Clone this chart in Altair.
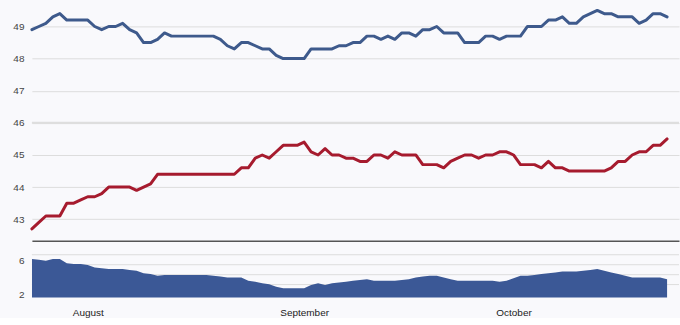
import altair as alt
import pandas as pd

start_date = "2012-07-24"

blue = [48.9, 49.0, 49.1, 49.3, 49.4, 49.2, 49.2, 49.2, 49.2, 49.0,
        48.9, 49.0, 49.0, 49.1, 48.9, 48.8, 48.5, 48.5, 48.6, 48.8,
        48.7, 48.7, 48.7, 48.7, 48.7, 48.7, 48.7, 48.6, 48.4, 48.3,
        48.5, 48.5, 48.4, 48.3, 48.3, 48.1, 48.0, 48.0, 48.0, 48.0,
        48.3, 48.3, 48.3, 48.3, 48.4, 48.4, 48.5, 48.5, 48.7, 48.7,
        48.6, 48.7, 48.6, 48.8, 48.8, 48.7, 48.9, 48.9, 49.0, 48.8,
        48.8, 48.8, 48.5, 48.5, 48.5, 48.7, 48.7, 48.6, 48.7, 48.7,
        48.7, 49.0, 49.0, 49.0, 49.2, 49.2, 49.3, 49.1, 49.1, 49.3,
        49.4, 49.5, 49.4, 49.4, 49.3, 49.3, 49.3, 49.1, 49.2, 49.4,
        49.4, 49.3]

red = [42.7, 42.9, 43.1, 43.1, 43.1, 43.5, 43.5, 43.6, 43.7, 43.7,
       43.8, 44.0, 44.0, 44.0, 44.0, 43.9, 44.0, 44.1, 44.4, 44.4,
       44.4, 44.4, 44.4, 44.4, 44.4, 44.4, 44.4, 44.4, 44.4, 44.4,
       44.6, 44.6, 44.9, 45.0, 44.9, 45.1, 45.3, 45.3, 45.3, 45.4,
       45.1, 45.0, 45.2, 45.0, 45.0, 44.9, 44.9, 44.8, 44.8, 45.0,
       45.0, 44.9, 45.1, 45.0, 45.0, 45.0, 44.7, 44.7, 44.7, 44.6,
       44.8, 44.9, 45.0, 45.0, 44.9, 45.0, 45.0, 45.1, 45.1, 45.0,
       44.7, 44.7, 44.7, 44.6, 44.8, 44.6, 44.6, 44.5, 44.5, 44.5,
       44.5, 44.5, 44.5, 44.6, 44.8, 44.8, 45.0, 45.1, 45.1, 45.3,
       45.3, 45.5]

spread = [6.2, 6.1, 6.0, 6.2, 6.2, 5.7, 5.6, 5.6, 5.5, 5.2,
          5.1, 5.0, 5.0, 5.0, 4.9, 4.8, 4.5, 4.4, 4.2, 4.3,
          4.3, 4.3, 4.3, 4.3, 4.3, 4.3, 4.2, 4.1, 4.0, 4.0,
          4.0, 3.6, 3.5, 3.3, 3.2, 2.9, 2.7, 2.7, 2.7, 2.7,
          3.1, 3.3, 3.1, 3.3, 3.4, 3.5, 3.6, 3.7, 3.8, 3.6,
          3.6, 3.6, 3.6, 3.7, 3.8, 4.0, 4.1, 4.2, 4.2, 4.0,
          3.8, 3.6, 3.6, 3.6, 3.6, 3.6, 3.6, 3.5, 3.6, 3.9,
          4.2, 4.2, 4.3, 4.4, 4.5, 4.6, 4.7, 4.7, 4.7, 4.8,
          4.9, 5.0, 4.8, 4.6, 4.4, 4.2, 4.0, 4.0, 4.0, 4.0,
          4.0, 3.8]

top_ticks = [43, 44, 45, 46, 47, 48, 49]
bottom_ticks = [2, 4, 6]
bottom_grid = [3.15, 4.33, 5.52, 6.71]
panel_split = [46]

dates = list(pd.date_range(start_date, periods=len(blue)).strftime("%Y-%m-%d"))
lines_df = pd.DataFrame({
    "date": dates * 2,
    "value": blue + red,
    "series": ["Blue"] * len(blue) + ["Red"] * len(red),
})
spread_df = pd.DataFrame({"date": dates, "spread": spread})

x_domain = [alt.DateTime(year=2012, month=7, date=24, utc=True),
            alt.DateTime(year=2012, month=10, date=24, hours=17, utc=True)]
month_ticks = [alt.DateTime(year=2012, month=m, date=1, utc=True) for m in (8, 9, 10)]
xscale = alt.Scale(type="utc", domain=x_domain)

W = 649
FONT = "Liberation Sans"

split_rule = alt.Chart(pd.DataFrame({"y": panel_split})).mark_rule(
    color="#dedede", strokeWidth=2
).encode(y=alt.Y("y:Q"))

lines = alt.Chart(lines_df).mark_line(strokeWidth=3, strokeJoin="round", strokeCap="round").encode(
    x=alt.X("date:T", scale=xscale,
            axis=alt.Axis(labels=False, ticks=False, grid=False, domain=True,
                          domainColor="#555555", domainWidth=1.5, title=None)),
    y=alt.Y("value:Q", scale=alt.Scale(domain=[42.33, 49.81], nice=False, zero=False),
            axis=alt.Axis(values=top_ticks, grid=True, gridColor="#dddddd", domain=False,
                          ticks=False, labelPadding=8, title=None, format="d",
                          labelColor="#444444", labelFont=FONT, labelFontSize=10)),
    color=alt.Color("series:N", scale=alt.Scale(domain=["Blue", "Red"],
                                                range=["#3e5a8c", "#a61b2e"]), legend=None),
)

top = alt.layer(split_rule, lines).properties(width=W, height=241)

grid_rules = alt.Chart(pd.DataFrame({"g": bottom_grid})).mark_rule(
    color="#dddddd", strokeWidth=1
).encode(y=alt.Y("g:Q"))

area = alt.Chart(spread_df).mark_area(color="#3b5896", clip=True).encode(
    x=alt.X("date:T", scale=xscale,
            axis=alt.Axis(values=month_ticks, labelExpr="utcFormat(datum.value, '%B')",
                          ticks=False, grid=False, domain=False, labelPadding=10, title=None,
                          labelColor="#222222", labelFont=FONT, labelFontSize=10)),
    y=alt.Y("spread:Q", scale=alt.Scale(domain=[1.6, 7.9], nice=False, zero=False),
            axis=alt.Axis(values=bottom_ticks, grid=False, domain=False, ticks=False,
                          labelPadding=8, title=None, labelColor="#444444",
                          labelFont=FONT, labelFontSize=10)),
)

bottom = alt.layer(grid_rules, area).properties(width=W, height=53)

chart = alt.vconcat(top, bottom, spacing=4).properties(
    background="#f9f9fc",
    padding={"left": 12, "top": 0, "right": 0, "bottom": 0},
).configure_view(stroke=None)

chart.save("out.html", embed_options={"renderer": "svg", "actions": False})
